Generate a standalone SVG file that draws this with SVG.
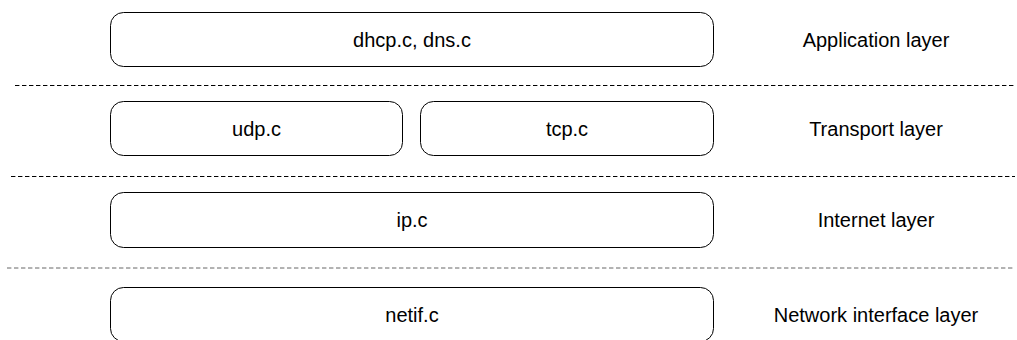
<svg xmlns="http://www.w3.org/2000/svg" width="1017" height="340" viewBox="0 0 1017 340">
  <style>
    .box { fill: #ffffff; stroke: #000000; stroke-width: 1; }
    .sep { stroke: #000000; stroke-width: 1; stroke-dasharray: 4.4 2.6; fill: none; }
    .lbl { font-family: "Liberation Sans", Arial, sans-serif; font-size: 20px; fill: #000000; text-anchor: middle; }
  </style>
  <rect width="1017" height="340" fill="#ffffff"/>

  <!-- layer separators -->
  <g id="separators">
    <line class="sep" x1="15" y1="85.5" x2="1015" y2="85.5"/>
    <line class="sep" x1="11" y1="176.5" x2="1015" y2="176.5"/>
    <line class="sep" x1="7" y1="268" x2="1015" y2="268" stroke-opacity="0.6"/>
  </g>

  <!-- application layer -->
  <g id="node-app">
    <rect class="box" x="110.5" y="12.5" width="603" height="54" rx="13" ry="13"/>
    <text class="lbl" x="412" y="46.5">dhcp.c, dns.c</text>
  </g>

  <!-- transport layer -->
  <g id="node-udp">
    <rect class="box" x="110.5" y="101.5" width="292" height="54" rx="13" ry="13"/>
    <text class="lbl" x="256.5" y="135.5">udp.c</text>
  </g>
  <g id="node-tcp">
    <rect class="box" x="420.5" y="101.5" width="293" height="54" rx="13" ry="13"/>
    <text class="lbl" x="567" y="135.5">tcp.c</text>
  </g>

  <!-- internet layer -->
  <g id="node-ip">
    <rect class="box" x="110.5" y="192.5" width="603" height="55" rx="13" ry="13"/>
    <text class="lbl" x="412" y="227">ip.c</text>
  </g>

  <!-- network interface layer -->
  <g id="node-netif">
    <rect class="box" x="110.5" y="287.5" width="603" height="54" rx="13" ry="13"/>
    <text class="lbl" x="412" y="322">netif.c</text>
  </g>

  <!-- layer names -->
  <g id="layer-names">
    <text class="lbl" x="876" y="47">Application layer</text>
    <text class="lbl" x="876" y="135.5">Transport layer</text>
    <text class="lbl" x="876" y="227">Internet layer</text>
    <text class="lbl" x="876" y="322">Network interface layer</text>
  </g>

  <!-- connectors: none between layers -->
  <g id="connectors"/>
</svg>
